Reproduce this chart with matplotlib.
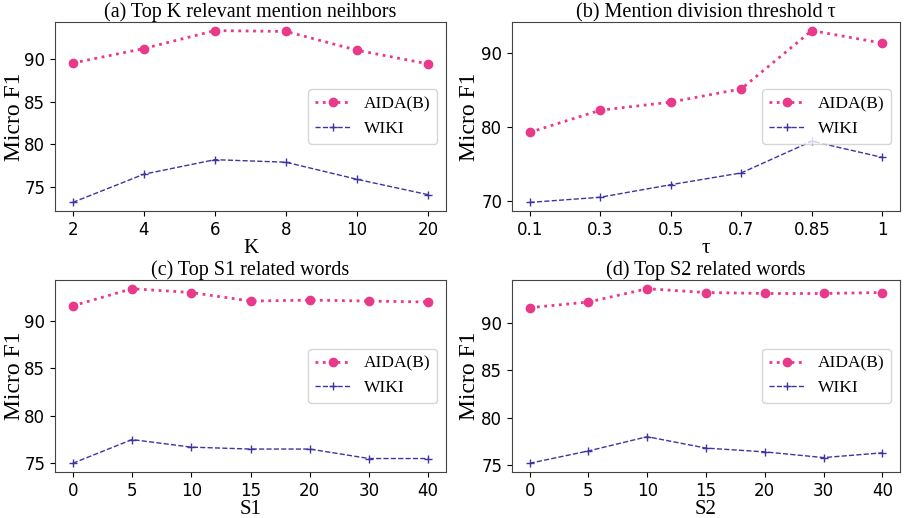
import matplotlib.pyplot as plt
import numpy as np

# panel data
k_labels = ['2', '4', '6', '8', '10', '20']
k_aida = [89.5, 91.2, 93.3, 93.2, 91.0, 89.4]
k_wiki = [73.2, 76.5, 78.2, 77.9, 75.9, 74.1]

tau_labels = ['0.1', '0.3', '0.5', '0.7', '0.85', '1']
tau_aida = [79.3, 82.3, 83.4, 85.2, 93.1, 91.4]
tau_wiki = [69.8, 70.5, 72.2, 73.8, 78.1, 75.9]

s1_labels = ['0', '5', '10', '15', '20', '30', '40']
s1_aida = [91.6, 93.4, 93.0, 92.1, 92.2, 92.1, 92.0]
s1_wiki = [75.0, 77.5, 76.7, 76.5, 76.5, 75.5, 75.5]

s2_labels = ['0', '5', '10', '15', '20', '30', '40']
s2_aida = [91.6, 92.2, 93.6, 93.2, 93.1, 93.1, 93.2]
s2_wiki = [75.2, 76.5, 78.0, 76.8, 76.4, 75.8, 76.3]

titles = ['(a) Top K relevant mention neihbors', '(b) Mention division threshold τ',
          '(c) Top S1 related words', '(d) Top S2 related words']
xlabels = ['K', 'τ', 'S1', 'S2']
panels = [(k_labels, k_aida, k_wiki), (tau_labels, tau_aida, tau_wiki),
          (s1_labels, s1_aida, s1_wiki), (s2_labels, s2_aida, s2_wiki)]

W, H = 908, 518
# axes rects in pixels: left, top, right, bottom
rects = [(55, 22, 446, 211), (512, 22, 900, 211),
         (55, 280, 446, 472), (512, 280, 900, 472)]
ylab_x = [25, 480, 25, 480]  # pixel x of the y label's baseline side

serif = 'Liberation Serif'
fig = plt.figure(figsize=(9.08, 5.18), dpi=100)

for i in range(4):
    l, t, r, b = rects[i]
    ax = fig.add_axes([l / W, 1 - b / H, (r - l) / W, (b - t) / H])
    labels, aida, wiki = panels[i]
    x = np.arange(len(labels))
    ax.plot(x, aida, linestyle=':', color='#e8398a', marker='o', markersize=6,
            linewidth=2, label='AIDA(B)')
    ax.plot(x, wiki, linestyle='--', color='#3d35a0', marker='+', markersize=6,
            linewidth=1, label='WIKI')
    ax.set_xticks(x)
    ax.set_xticklabels(labels, fontsize=12)
    ax.tick_params(axis='y', labelsize=12)
    ax.set_title(titles[i], fontsize=14.5, family=serif, pad=2)
    ax.set_xlabel(xlabels[i], fontsize=15, family=serif, labelpad=0)
    ax.set_ylabel('Micro F1', fontsize=17, family=serif)
    ax.yaxis.set_label_coords((ylab_x[i] - l) / (r - l), 0.5)
    for s in ax.spines.values():
        s.set_color('#444444')
    leg = ax.legend(loc='center right', prop={'family': serif, 'size': 12.5})

plt.savefig('out.png', dpi=100)
